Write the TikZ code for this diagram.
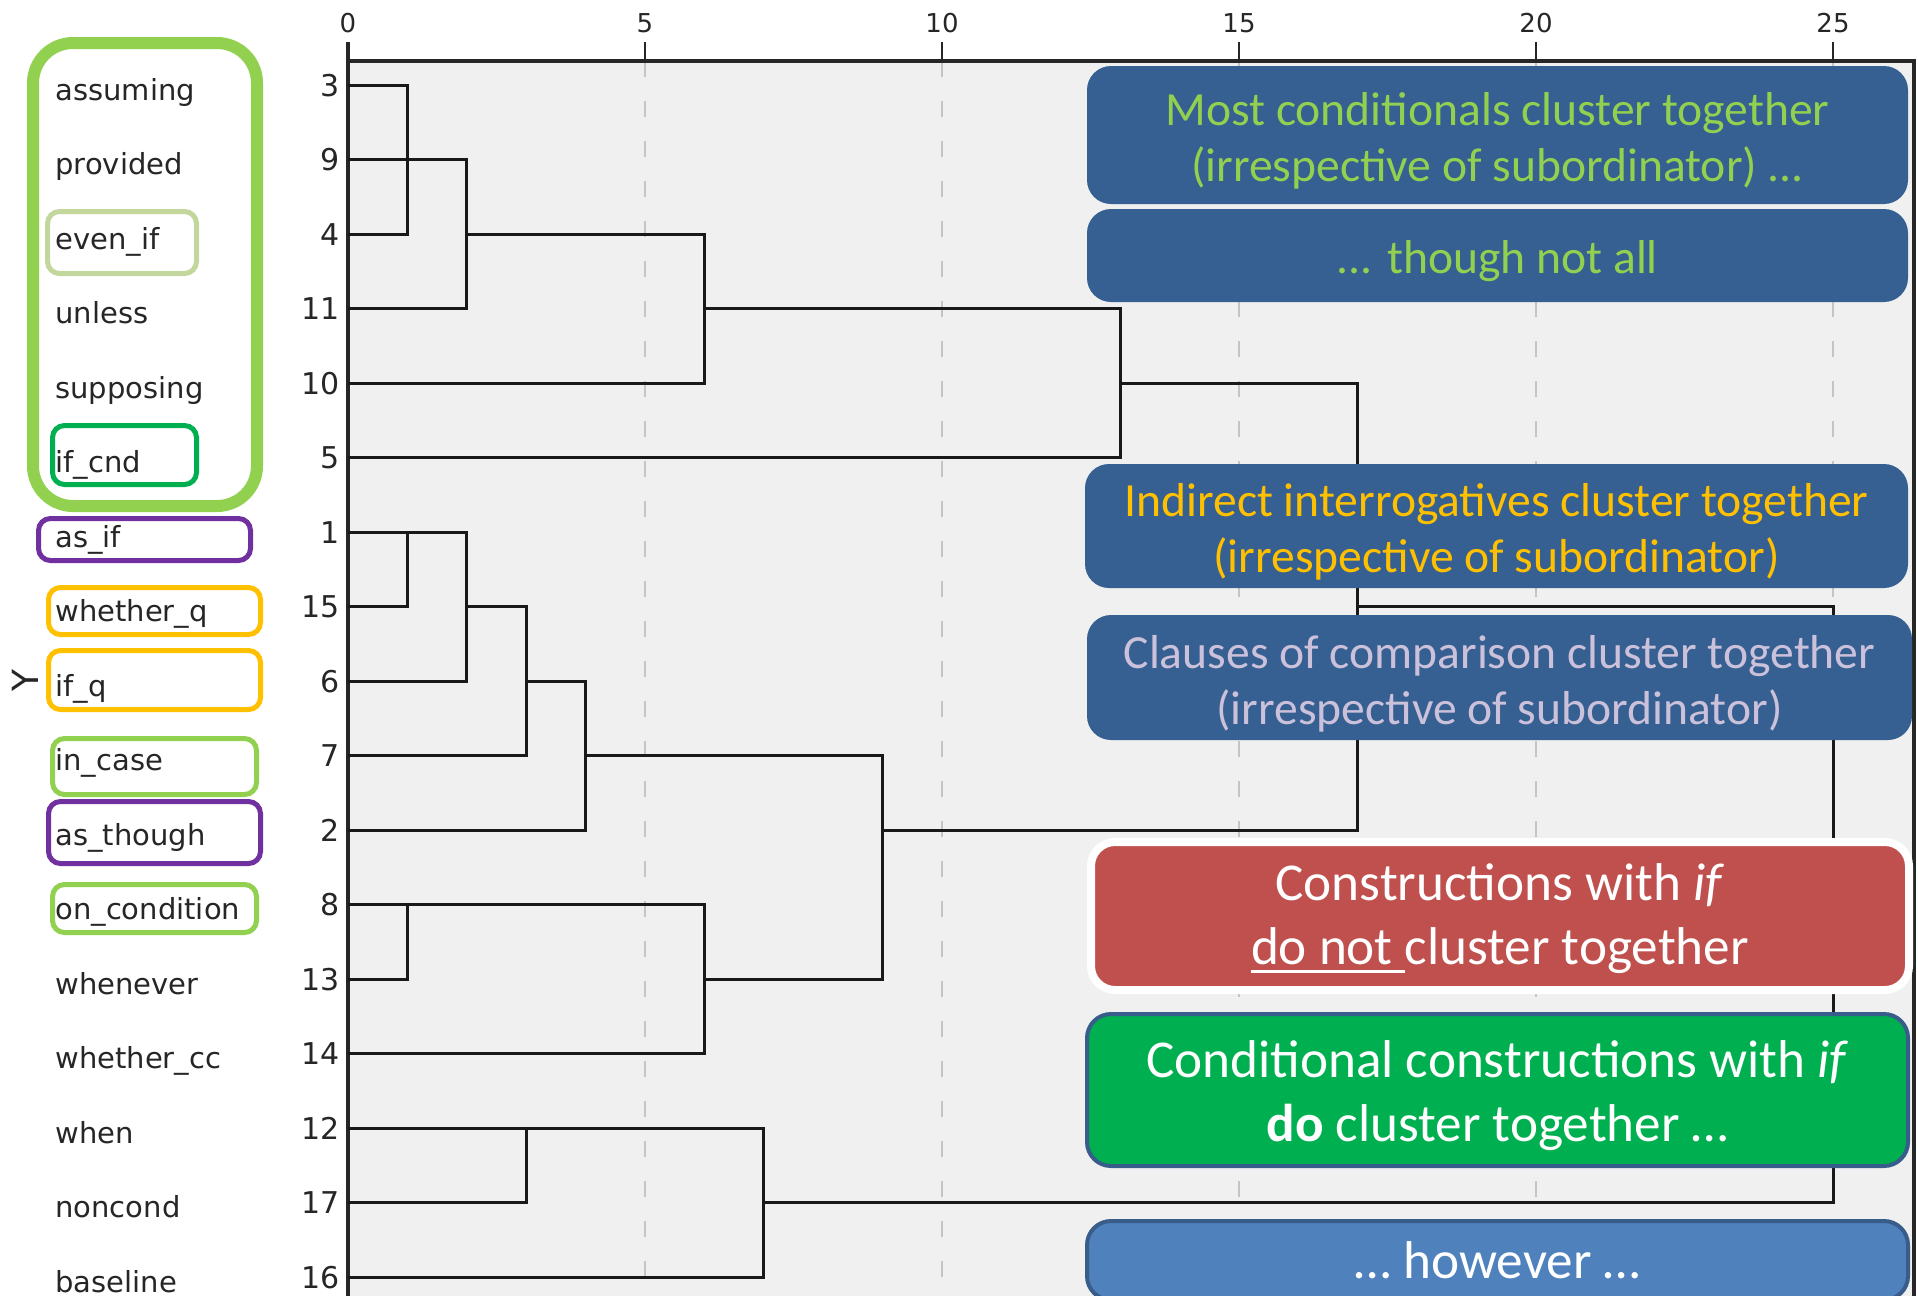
\documentclass[tikz,border=0pt]{standalone}
\usepackage{fontspec}
\newfontfamily\spssfont{DejaVu Sans}
\newfontfamily\califont{Carlito}
\definecolor{plotbg}{HTML}{F0F0F0}
\definecolor{gridc}{HTML}{C4C4C4}
\definecolor{labc}{HTML}{262626}
\definecolor{lgreen}{HTML}{92D050}
\definecolor{pgreen}{HTML}{C3D69B}
\definecolor{dgreen}{HTML}{00B050}
\definecolor{purp}{HTML}{7030A0}
\definecolor{orng}{HTML}{FFC000}
\definecolor{boxblue}{HTML}{376092}
\definecolor{boxedge}{HTML}{385D8A}
\definecolor{lblue}{HTML}{4F81BD}
\definecolor{redbox}{HTML}{C0504D}
\definecolor{lav}{HTML}{CCC1DA}
\newcommand\myul[1]{\setbox0\hbox{#1}\rlap{\rule[-4pt]{\wd0}{1.6pt}}\box0}
\begin{document}
\begin{tikzpicture}[x=0.5pt,y=-0.5pt,
  axisline/.style={line width=1.6pt,black!85},
  gridline/.style={gridc,line width=0.9pt,dash pattern=on 8pt off 12pt},
  dend/.style={line width=1.5pt,black!90},
  lab/.style={anchor=base west,inner sep=0pt,text=labc,font=\spssfont\fontsize{14.5}{17}\selectfont},
  num/.style={anchor=base east,inner sep=0pt,text=labc,font=\spssfont\fontsize{15}{18}\selectfont},
  tick/.style={anchor=base,inner sep=0pt,text=labc,font=\spssfont\fontsize{13}{16}\selectfont},
  frame/.style={line width=2.5pt,rounded corners=6pt},
  annobox/.style={rounded corners=12pt,inner sep=0pt,minimum width=410.5pt},
  annotxt/.style={inner sep=0pt,align=center,yshift=-3pt},
  bigtxt/.style={font=\califont\fontsize{23.8}{28}\selectfont},
  hugetxt/.style={font=\califont\fontsize{26.6}{32}\selectfont}
]
\useasboundingbox (0,0) rectangle (1918,1296);
\fill[white] (0,0) rectangle (1918,1296);
% plot area
\fill[plotbg] (348,61) rectangle (1914,1296);
\foreach \xx in {645,942,1239,1536,1833} \draw[gridline] (\xx,61) -- (\xx,1296);
\foreach \xx in {348,645,942,1239,1536,1833} \draw[line width=1.2pt,black!85] (\xx,42) -- (\xx,61);
\draw[axisline] (348,42) -- (348,1296);
\draw[axisline] (348,61) -- (1914,61) -- (1914,1296);
% tick labels
\foreach \xx/\tt [count=\k] in {348/0,645/5,942/10,1239/15,1536/20,1833/25}
  \node[tick] (t\k) at (\xx,32) {\tt};
% dendrogram
\begin{scope}[xshift=174pt,yshift=-42.5pt,x=29.7pt,y=-37.25pt]
\draw[dend] (0,0)--(1,0)--(1,2)--(0,2);
\draw[dend] (0,1)--(2,1)--(2,3)--(0,3);
\draw[dend] (2,2)--(6,2)--(6,4)--(0,4);
\draw[dend] (6,3)--(13,3)--(13,5)--(0,5);
\draw[dend] (13,4)--(17,4)--(17,10)--(9,10);
\draw[dend] (0,6)--(2,6)--(2,8)--(0,8);
\draw[dend] (0,7)--(1,7)--(1,6);
\draw[dend] (2,7)--(3,7)--(3,9)--(0,9);
\draw[dend] (3,8)--(4,8)--(4,10)--(0,10);
\draw[dend] (4,9)--(9,9)--(9,12)--(6,12);
\draw[dend] (0,11)--(6,11)--(6,13)--(0,13);
\draw[dend] (0,12)--(1,12)--(1,11);
\draw[dend] (17,7)--(25,7)--(25,15)--(7,15);
\draw[dend] (0,14)--(7,14)--(7,16)--(0,16);
\draw[dend] (0,15)--(3,15)--(3,14);
\end{scope}
% row labels and numbers
\foreach \lbl/\nn [count=\k from 0] in {assuming/3,provided/9,even\_if/4,unless/11,supposing/10,if\_cnd/5,as\_if/1,whether\_q/15,if\_q/6,in\_case/7,as\_though/2,on\_condition/8,whenever/13,whether\_cc/14,when/12,noncond/17,baseline/16}{
  \pgfmathsetmacro\yy{85+\k*74.5}
  \node[lab] (l\k) at (55,\yy+15) {\lbl};
  \node[num] (n\k) at (340,\yy+11) {\nn};
}
\node[text=labc,rotate=90,inner sep=0pt,font=\spssfont\fontsize{18}{20}\selectfont] (yax) at (25,680) {Y};
% left frames
\draw[lgreen,line width=6pt,rounded corners=20pt] (33,43) rectangle (257,506);
\draw[frame,pgreen] (47.5,211.5) rectangle (196.5,273.5);
\draw[frame,dgreen] (52.5,425.5) rectangle (196.5,484.5);
\draw[frame,purp] (38.5,518.5) rectangle (250.5,560.5);
\draw[frame,orng] (48.5,587.5) rectangle (260.5,634.5);
\draw[frame,orng] (48.5,650.5) rectangle (260.5,709.5);
\draw[frame,lgreen] (52.5,738.5) rectangle (256.5,794.5);
\draw[frame,purp] (48.5,801.5) rectangle (260.5,863.5);
\draw[frame,lgreen] (52.5,884.5) rectangle (256.5,932.5);
% annotation boxes
\node[annobox,fill=boxblue,minimum height=69pt] (b1) at (1497.5,135) {};
\node[annotxt,text=lgreen,bigtxt] (b1t) at (b1.center)
  {Most conditionals cluster together\\(irrespective of subordinator) ...};
\node[annobox,fill=boxblue,minimum height=46.5pt] (b2) at (1497.5,255.5) {};
\node[annotxt,text=lgreen,bigtxt] (b2t) at (b2.center) {... though not all};
\node[annobox,fill=boxblue,minimum width=411.5pt,minimum height=62pt] (b3) at (1496.5,526) {};
\node[annotxt,text=orng,bigtxt] (b3t) at (b3.center)
  {Indirect interrogatives cluster together\\(irrespective of subordinator)};
\node[annobox,fill=boxblue,minimum width=412.5pt,minimum height=62.5pt] (b4) at (1499.5,677.5) {};
\node[annotxt,text=lav,bigtxt] (b4t) at (b4.center)
  {Clauses of comparison cluster together\\(irrespective of subordinator)};
\node[annobox,fill=redbox,draw=white,line width=4pt,minimum width=409pt,minimum height=74pt] (b5) at (1500,916) {};
\node[annotxt,text=white,hugetxt,yshift=1.5pt] (b5t) at (b5.center)
  {Constructions with \textit{if}\\\myul{do not }cluster together};
\node[annobox,fill=dgreen,draw=boxedge,line width=2pt,minimum height=76pt] (b6) at (1497.5,1090) {};
\node[annotxt,text=white,hugetxt] (b6t) at (b6.center)
  {Conditional constructions with \textit{if}\\\textbf{do} cluster together …};
\node[annobox,fill=lblue,draw=boxedge,line width=2pt,minimum height=39.5pt] (b7) at (1497.5,1260.5) {};
\node[inner sep=0pt,text=white,hugetxt] (b7t) at (b7.center) {… however …};
\end{tikzpicture}
\end{document}
